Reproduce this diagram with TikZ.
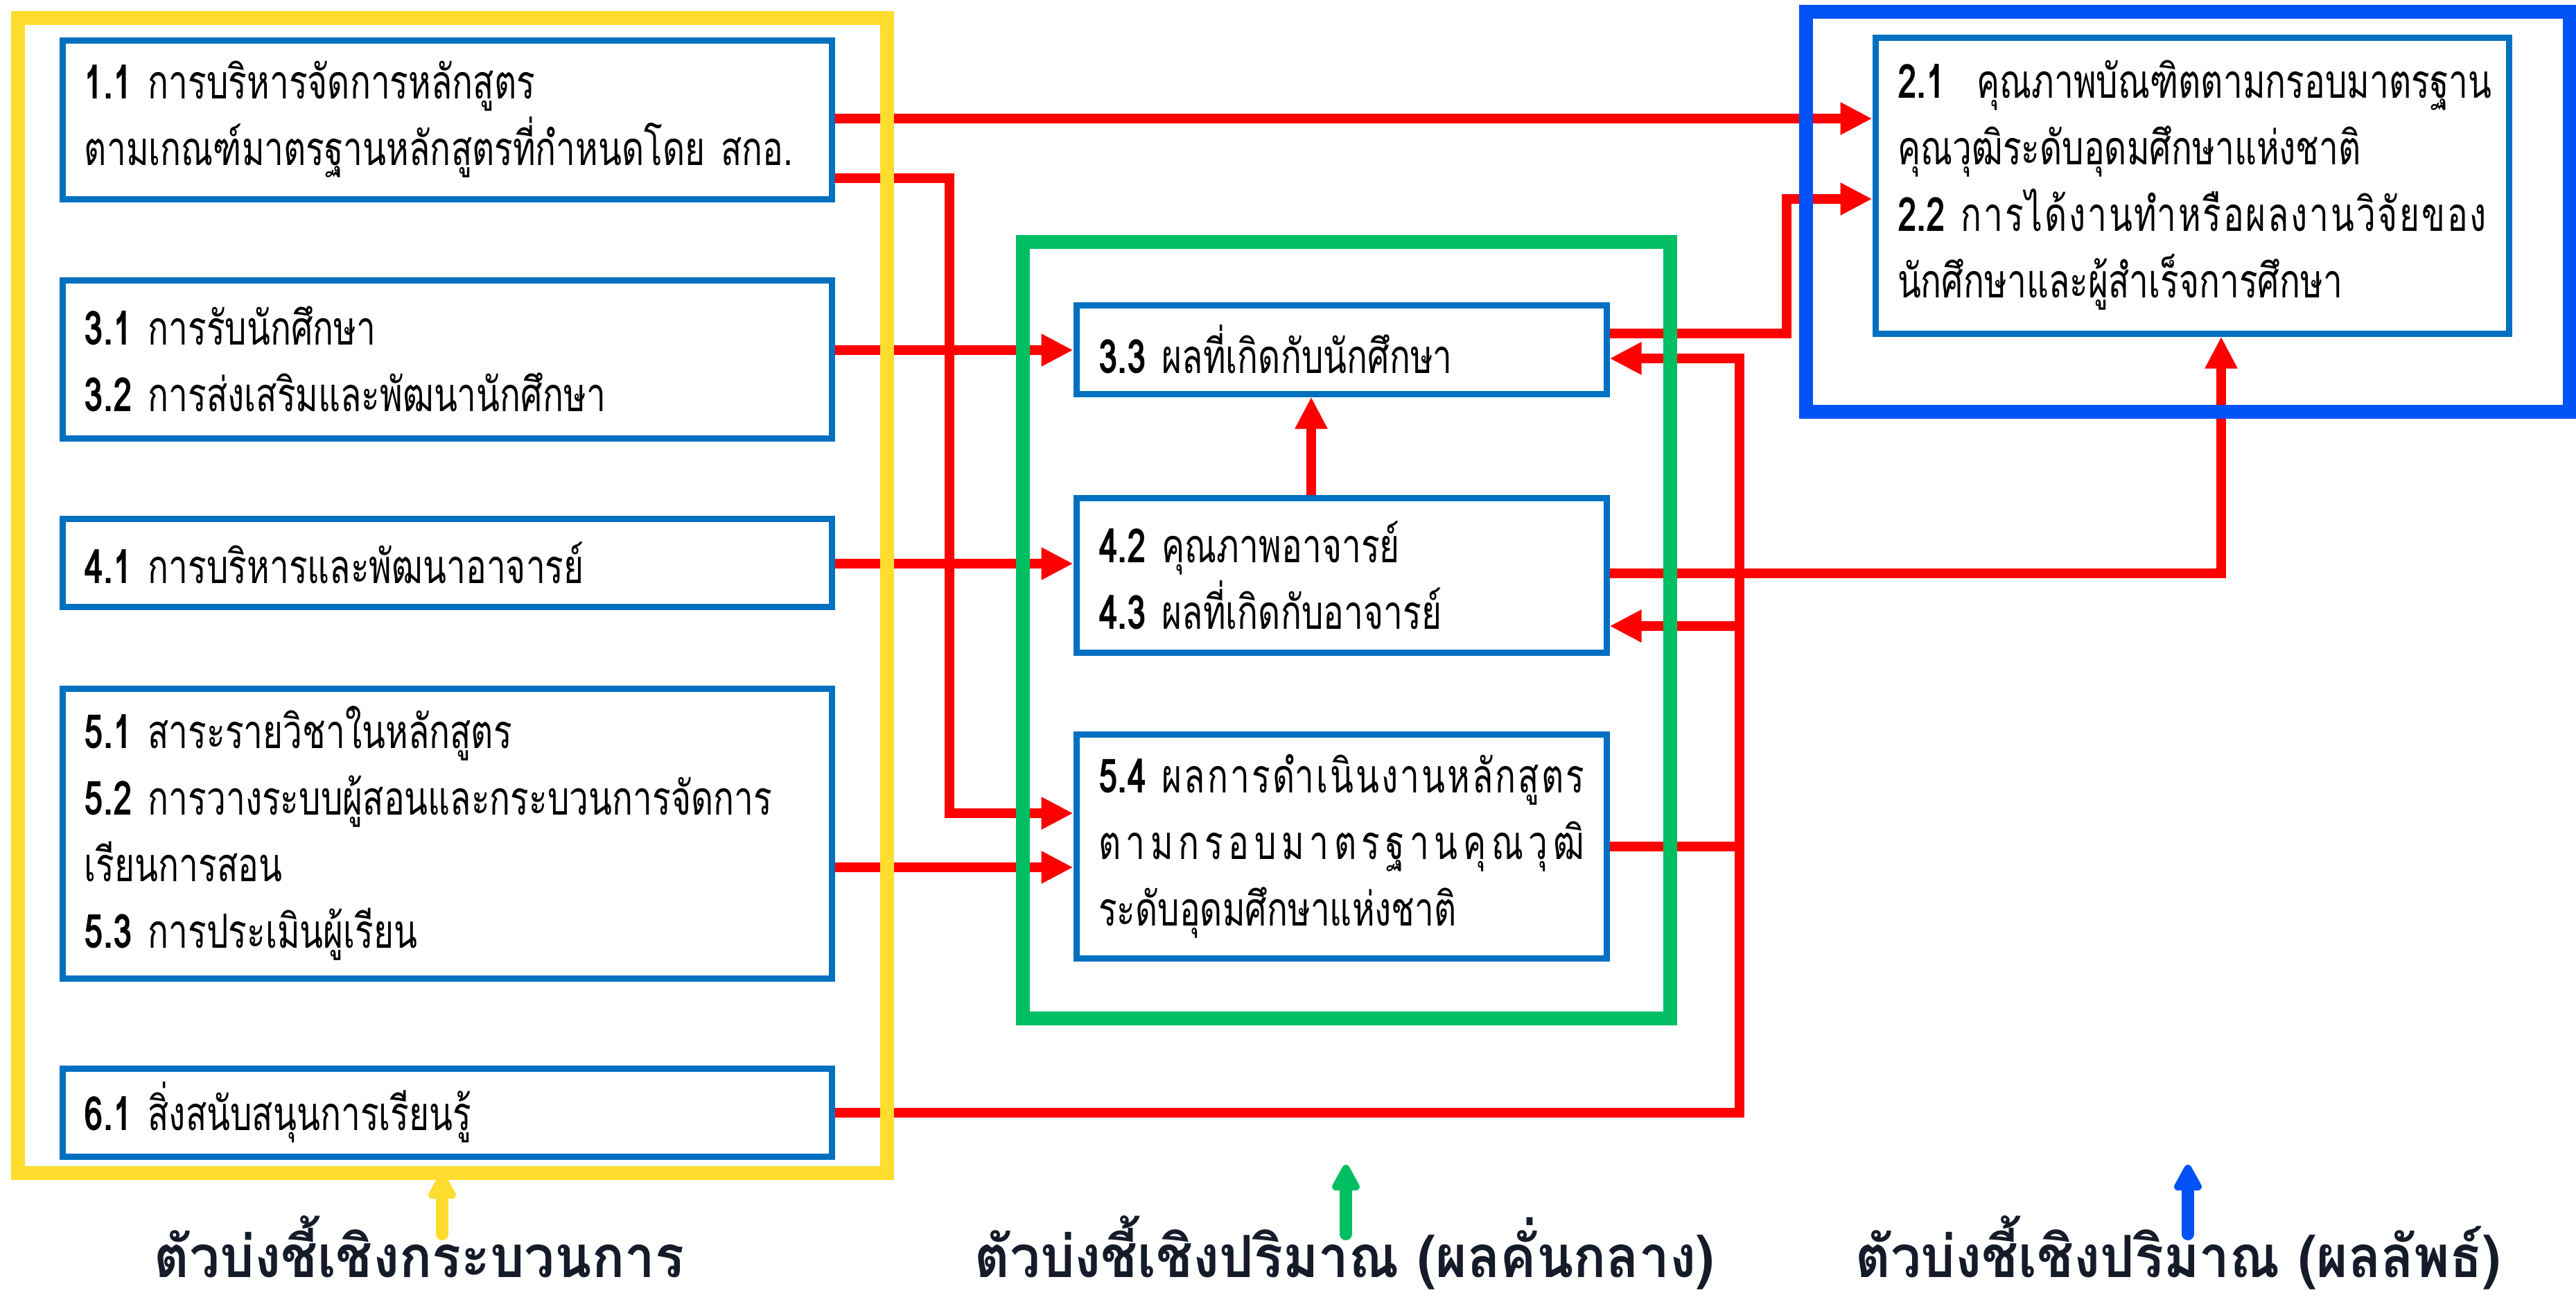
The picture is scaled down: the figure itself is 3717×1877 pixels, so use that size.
\documentclass[tikz,border=0pt]{standalone}
\usepackage{fontspec}
\usetikzlibrary{arrows.meta}
\newfontfamily\boxfont[Script=Thai,FakeStretch=0.73]{Loma}
\newfontfamily\lblfont[Script=Thai,FakeStretch=0.93]{Loma}
\definecolor{ylw}{RGB}{255,221,46}
\definecolor{grn}{RGB}{0,191,99}
\definecolor{blu}{RGB}{0,82,245}
\definecolor{bxb}{RGB}{0,112,192}
\definecolor{rd}{RGB}{255,0,0}
\definecolor{nv}{RGB}{21,27,41}
\tikzset{
  bx/.style={draw=bxb, line width=2.25pt, fill=white, inner xsep=8pt, inner ysep=0pt,
    align=left, font=\boxfont\fontsize{17pt}{24pt}\selectfont},
  frm/.style={draw=#1, line width=5pt, inner sep=0pt, outer sep=0pt},
  rl/.style={draw=rd, line width=3.6pt, line join=miter, -{Triangle[length=11.5pt,width=11pt]}},
  rln/.style={draw=rd, line width=3.6pt, line join=miter},
  lbl/.style={text=nv, font=\lblfont\bfseries\fontsize{21pt}{24pt}\selectfont, inner sep=0pt, anchor=base},
  ia/.style={draw=#1, line width=4.5pt, line cap=round, -{Triangle[round,length=11pt,width=11pt]}}
}
\begin{document}
\begin{tikzpicture}[x=0.25pt,y=-0.25pt]
\useasboundingbox[fill=white] (0,0) rectangle (3717,1877);
% left column boxes
\node[bx, minimum width=277.5pt, minimum height=57.25pt, text width=261.5pt] (b11) at (645,172.5)
  {{\bfseries 1.1}~การบริหารจัดการหลักสูตร\\ตามเกณฑ์มาตรฐานหลักสูตรที่กำหนดโดย~สกอ.};
\node[bx, minimum width=277.5pt, minimum height=57pt, text width=261.5pt] (b31) at (645,518)
  {{\bfseries 3.1}~การรับนักศึกษา\\{\bfseries 3.2}~การส่งเสริมและพัฒนานักศึกษา};
\node[bx, minimum width=277.5pt, minimum height=31.75pt, text width=261.5pt] (b41) at (645,811.5)
  {{\bfseries 4.1}~การบริหารและพัฒนาอาจารย์};
\node[bx, minimum width=277.5pt, minimum height=104.5pt, text width=261.5pt] (b5) at (645,1202)
  {{\bfseries 5.1}~สาระรายวิชาในหลักสูตร\\{\bfseries 5.2}~การวางระบบผู้สอนและกระบวนการจัดการ\\เรียนการสอน\\{\bfseries 5.3}~การประเมินผู้เรียน};
\node[bx, minimum width=277.5pt, minimum height=31.75pt, text width=261.5pt] (b61) at (645,1604.5)
  {{\bfseries 6.1}~สิ่งสนับสนุนการเรียนรู้};
% middle boxes
\node[bx, minimum width=191.25pt, minimum height=32pt, text width=175.25pt] (b33) at (1935.5,504)
  {{\bfseries 3.3}~ผลที่เกิดกับนักศึกษา};
\node[bx, minimum width=191.25pt, minimum height=55.75pt, text width=175.25pt] (b42) at (1935.5,829.5)
  {{\bfseries 4.2}~คุณภาพอาจารย์\\{\bfseries 4.3}~ผลที่เกิดกับอาจารย์};
\node[bx, minimum width=191.25pt, minimum height=80.75pt, text width=175.25pt] (b54) at (1935.5,1220.5)
  {\makebox[175.25pt][s]{{\bfseries 5.4}~ผ\hfil ล\hfil ก\hfil า\hfil ร\hfil ดำ\hfil เ\hfil นิ\hfil น\hfil ง\hfil า\hfil น\hfil ห\hfil ลั\hfil ก\hfil สู\hfil ต\hfil ร}\\\makebox[175.25pt][s]{ต\hfil า\hfil ม\hfil ก\hfil ร\hfil อ\hfil บ\hfil ม\hfil า\hfil ต\hfil ร\hfil ฐ\hfil า\hfil น\hfil คุ\hfil ณ\hfil วุ\hfil ฒิ}\\ระดับอุดมศึกษาแห่งชาติ};
% right box
\node[bx, minimum width=228.5pt, minimum height=106.75pt, text width=212.5pt] (b2) at (3163,267.5)
  {\makebox[212.5pt][s]{{\bfseries 2.1}~~ค\hfil ุ\hfil ณ\hfil ภ\hfil า\hfil พ\hfil บั\hfil ณ\hfil ฑิ\hfil ต\hfil ต\hfil า\hfil ม\hfil ก\hfil ร\hfil อ\hfil บ\hfil ม\hfil า\hfil ต\hfil ร\hfil ฐ\hfil า\hfil น}\\คุณวุฒิระดับอุดมศึกษาแห่งชาติ\\\makebox[212.5pt][s]{{\bfseries 2.2}~ก\hfil า\hfil ร\hfil ไ\hfil ด้\hfil ง\hfil า\hfil น\hfil ทำ\hfil ห\hfil รื\hfil อ\hfil ผ\hfil ล\hfil ง\hfil า\hfil น\hfil วิ\hfil จั\hfil ย\hfil ข\hfil อ\hfil ง}\\นักศึกษาและผู้สำเร็จการศึกษา};
% connectors
\coordinate (j1) at (2510,903);
\coordinate (j2) at (2510,1221);
\draw[rl] (b11.east |- 0,171) -- (b2.west |- 0,171);
\draw[rl] (b11.east |- 0,257) -- (1370,257) -- (1370,1173) -- (b54.west |- 0,1173);
\draw[rl] (b31.east |- 0,505) -- (b33.west |- 0,505);
\draw[rl] (b41.east |- 0,813) -- (b42.west |- 0,813);
\draw[rl] (b5.east |- 0,1251) -- (b54.west |- 0,1251);
\draw[rl] (b61.east |- 0,1605) -- (2510,1605) -- (2510,517) -- (b33.east |- 0,517);
\draw[rl] (j1) -- (b42.east |- 0,903);
\draw[rln] (b54.east |- 0,1221) -- (j2);
\draw[rl] (b33.east |- 0,481) -- (2578,481) -- (2578,287) -- (b2.west |- 0,287);
\draw[rl] (b42.east |- 0,827) -- (3205,827) -- (b2.south -| 3205,0);
\draw[rl] (b42.north -| 1892,0) -- (b33.south -| 1892,0);
% frames
\node[frm=ylw, minimum width=313.5pt, minimum height=416.5pt] (fy) at (653,859) {};
\node[frm=grn, minimum width=233.5pt, minimum height=280pt] (fg) at (1943,909) {};
\node[frm=blu, minimum width=275.5pt, minimum height=144.25pt] (fb) at (3157,305.5) {};
% bottom labels
\node[lbl] (l1) at (605,1842) {ตัวบ่งชี้เชิงกระบวนการ};
\node[lbl] (l2) at (1940,1842) {ตัวบ่งชี้เชิงปริมาณ (ผลคั่นกลาง)};
\node[lbl] (l3) at (3143,1842) {ตัวบ่งชี้เชิงปริมาณ (ผลลัพธ์)};
\coordinate (t2) at (1942,1680);
\coordinate (t3) at (3157,1680);
\draw[ia=ylw] (638,1780) -- (fy.south -| 638,0);
\draw[ia=grn] (1942,1780) -- (t2);
\draw[ia=blu] (3157,1780) -- (t3);
\end{tikzpicture}
\end{document}
